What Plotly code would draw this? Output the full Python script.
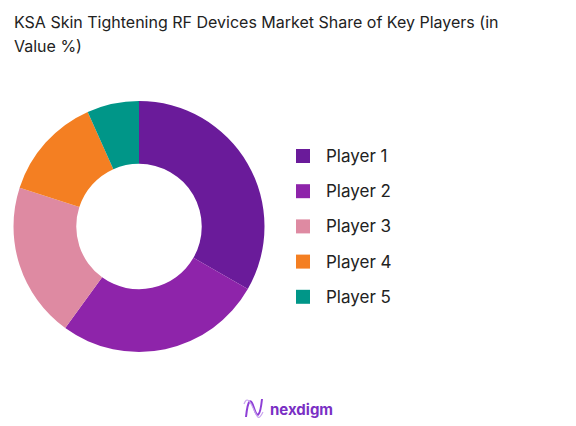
import plotly.graph_objects as go

W, H = 576, 426
PAGE_OFFSET = 8  # the page body margin pushes the figure 8px right and down

title_lines = ["KSA Skin Tightening RF Devices Market Share of Key Players (in", "Value %)"]
players = ["Player 1", "Player 2", "Player 3", "Player 4", "Player 5"]
shares = [33.3, 26.7, 20.0, 13.3, 6.7]
colors = ["#6a1b9a", "#8e24aa", "#de8aa2", "#f47f22", "#009688"]
brand = "nexdigm"

FONT = "Inter, Open Sans, sans-serif"


def px(x):
    return (x - PAGE_OFFSET) / W


def py(y):
    return 1 - (y - PAGE_OFFSET) / H


fig = go.Figure(go.Pie(
    labels=players,
    values=shares,
    hole=0.5,
    sort=False,
    direction="clockwise",
    rotation=0,
    marker=dict(colors=colors, line=dict(width=0)),
    textinfo="none",
    hoverinfo="label+percent",
    domain=dict(x=[px(13), px(265)], y=[py(352), py(101)]),
    showlegend=False,
))

# title, two lines
for i, line in enumerate(title_lines):
    fig.add_annotation(text=line, x=px(12), y=py(22 + 23.5 * i), xref="paper", yref="paper",
                       xanchor="left", yanchor="middle", showarrow=False,
                       font=dict(family=FONT, size=16, color="#222222"))

# legend drawn by hand so the row spacing matches
row_gap = 35.2
for i, (name, col) in enumerate(zip(players, colors)):
    yc = 156 + row_gap * i
    fig.add_shape(type="rect", xref="paper", yref="paper",
                  x0=px(296), x1=px(310), y0=py(yc - 7), y1=py(yc + 7),
                  fillcolor=col, line=dict(width=0))
    fig.add_annotation(text=name, x=px(324), y=py(yc), xref="paper", yref="paper",
                       xanchor="left", yanchor="middle", showarrow=False,
                       font=dict(family=FONT, size=17, color="#222222"))

# brand mark at the bottom
fig.add_shape(type="path", xref="paper", yref="paper",
              path=(f"M {px(246)} {py(417)} C {px(248)} {py(398)}, {px(251)} {py(398)}, {px(254)} {py(408)} "
                    f"S {px(260)} {py(418)}, {px(262)} {py(399)}"),
              line=dict(color="#8e3fd6", width=2))
fig.add_shape(type="path", xref="paper", yref="paper",
              path=(f"M {px(244)} {py(404)} C {px(247)} {py(396)}, {px(250)} {py(401)}, {px(254)} {py(410)} "
                    f"S {px(259)} {py(420)}, {px(263)} {py(412)}"),
              line=dict(color="#c9a4ee", width=1.2))
fig.add_annotation(text=f"<b>{brand}</b>", x=px(268), y=py(409), xref="paper", yref="paper",
                   xanchor="left", yanchor="middle", showarrow=False,
                   font=dict(family=FONT, size=15, color="#7a2fc4"))

fig.update_layout(
    width=W, height=H,
    margin=dict(l=0, r=0, t=0, b=0),
    paper_bgcolor="white",
    plot_bgcolor="white",
)

fig.write_html("out.html")
